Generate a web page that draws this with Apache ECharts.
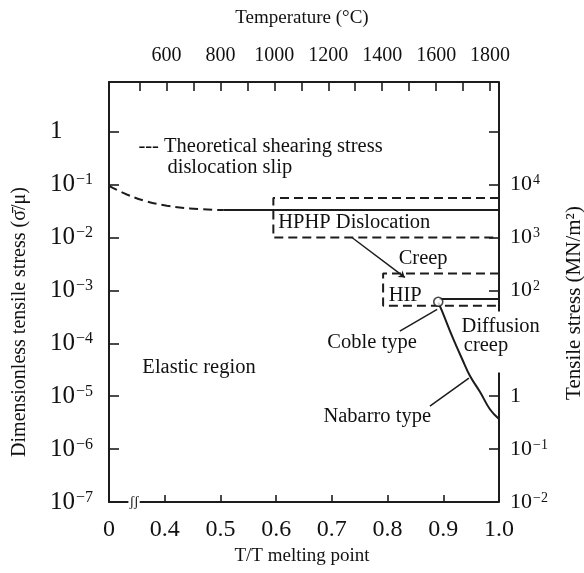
<!DOCTYPE html>
<html>
<head>
<meta charset="utf-8">
<title>Deformation map</title>
<script src="https://cdn.jsdelivr.net/npm/echarts@6.0.0/dist/echarts.min.js"></script>
<style>
  html, body { margin: 0; padding: 0; background: #fff; }
  #chart { width: 584px; height: 573px; }
</style>
</head>
<body>
<div id="chart"></div>
<script>
// x: T/T melting point, y: dimensionless tensile stress (log)
var theoryCurve = [[0.300, 0.095], [0.332, 0.065], [0.368, 0.048], [0.404, 0.040], [0.445, 0.0355], [0.505, 0.033]];
var flowLine = [[0.505, 0.033], [1.0, 0.033]];
var hphpBox = [[1.0, 0.0556], [0.595, 0.0556], [0.595, 0.0100], [1.0, 0.0100]];
var hipBox = [[1.0, 0.00209], [0.792, 0.00209], [0.792, 0.000512], [1.0, 0.000512]];
var hipLine = [[0.893, 0.00069], [1.0, 0.00069]];
var coblePoint = [[0.891, 0.00061]];
var nabarroCurve = [[0.891, 0.00059], [0.898, 0.00040], [0.916, 0.000135], [0.934, 0.000050],
  [0.948, 0.000024], [0.966, 0.000012], [0.984, 0.0000056], [1.0, 0.0000037]];

// pointer lines from the labels
var leaderHphp = [[0.736, 0.0100], [0.831, 0.00176]];
var leaderCoble = [[0.822, 0.00017], [0.889, 0.00044]];
var leaderNabarro = [[0.876, 0.0000065], [0.946, 0.000022]];

// right border is broken where "Diffusion creep" sits
var rightFrameTop = [[1.0, 8.71], [1.0, 0.00040]];
var rightFrameBottom = [[1.0, 0.000028], [1.0, 1e-7]];

var tempTicks = [500, 600, 700, 800, 900, 1000, 1100, 1200, 1300, 1400, 1500, 1600, 1700, 1800];
var tempLabels = [600, 800, 1000, 1200, 1400, 1600, 1800];
var mnTicks = [1e-1, 1, 1e2, 1e3, 1e4, 1e5];   // right axis, MN/m2 (no tick at 10)

var notes = [
  { name: '--- Theoretical shearing stress', value: [0.352, 0.53] },
  { name: 'dislocation slip', value: [0.404, 0.21] },
  { name: 'HPHP Dislocation', value: [0.603, 0.0188] },
  { name: 'Creep', value: [0.819, 0.00408] },
  { name: 'HIP', value: [0.801, 0.00081] },
  { name: 'Coble type', value: [0.691, 0.000105] },
  { name: 'Elastic region', value: [0.359, 0.000034] },
  { name: 'Nabarro type', value: [0.684, 0.0000041] },
  { name: 'Diffusion', value: [0.932, 0.00021] },
  { name: 'creep', value: [0.936, 0.000089] }
];

var FONT = "'Liberation Serif', 'DejaVu Serif', serif";
var INK = '#1c1c1c';
var TXT = '#111';

function powLabel(v, hide) {
  var lg = Math.log10(v);
  var e = Math.round(lg);
  if (Math.abs(lg - e) > 0.01) return '';
  if (hide.indexOf(e) >= 0) return '';
  if (e === 0) return '{b|1}';
  return '{b|10}{s|' + (e < 0 ? '\u2212' + (-e) : e) + '}';
}

function lineSeries(data, dashed, smooth, width) {
  return {
    type: 'line',
    data: data,
    symbol: 'none',
    smooth: smooth || false,
    clip: false,
    silent: true,
    lineStyle: { color: INK, width: width || 2, type: dashed ? [9, 5] : 'solid' }
  };
}

var chart = echarts.init(document.getElementById('chart'));
var option = {
  animation: false,
  backgroundColor: '#fff',
  grid: { left: 109, right: 85, top: 82, bottom: 71, outerBoundsMode: 'none' },
  xAxis: [
    {
      type: 'value',
      position: 'bottom',
      min: 0.3,
      max: 1.0,
      interval: 0.1,
      axisLine: { lineStyle: { color: INK, width: 2 } },
      axisTick: { inside: true, length: 7, lineStyle: { color: INK, width: 1.6 } },
      axisLabel: {
        margin: 16,
        fontSize: 24,
        fontFamily: FONT,
        color: TXT,
        formatter: function (v) { return v < 0.35 ? '0' : v.toFixed(1); }
      },
      splitLine: { show: false }
    },
    {
      type: 'value',
      position: 'top',
      min: 387,
      max: 1833,
      axisLine: { lineStyle: { color: INK, width: 2 } },
      axisTick: { inside: true, length: 9, customValues: tempTicks, lineStyle: { color: INK, width: 1.6 } },
      axisLabel: {
        customValues: tempLabels,
        margin: 16,
        fontSize: 20,
        fontFamily: FONT,
        color: TXT,
        formatter: function (v) { return String(Math.round(v)); }
      },
      splitLine: { show: false }
    }
  ],
  yAxis: [
    {
      type: 'log',
      logBase: 10,
      min: 1e-7,
      max: 8.71,
      position: 'left',
      axisLine: { lineStyle: { color: INK, width: 2 } },
      axisTick: { inside: true, length: 10, lineStyle: { color: INK, width: 1.6 } },
      axisLabel: {
        align: 'left',
        margin: 59,
        showMaxLabel: false,
        formatter: function (v) { return powLabel(v, []); },
        rich: {
          b: { fontSize: 25, fontFamily: FONT, color: TXT },
          s: { fontSize: 16, fontFamily: FONT, color: TXT, verticalAlign: 'top', padding: [0, 0, 0, 1] }
        }
      },
      splitLine: { show: false }
    },
    {
      type: 'log',
      logBase: 10,
      min: 1e-2,
      max: 8.71e5,
      position: 'right',
      axisLine: { show: false },
      axisTick: { inside: true, length: 10, customValues: mnTicks, lineStyle: { color: INK, width: 1.6 } },
      axisLabel: {
        margin: 11,
        showMaxLabel: false,
        formatter: function (v) { return powLabel(v, [5, 1]); },
        rich: {
          b: { fontSize: 22, fontFamily: FONT, color: TXT },
          s: { fontSize: 14, fontFamily: FONT, color: TXT, verticalAlign: 'top', padding: [0, 0, 0, 1] }
        }
      },
      splitLine: { show: false }
    }
  ],
  graphic: [
    { type: 'text', x: 302, y: 18, style: { text: 'Temperature (\u00b0C)', font: '19px ' + FONT, fill: TXT, textAlign: 'center', textVerticalAlign: 'middle' } },
    { type: 'text', x: 302, y: 556, style: { text: 'T/T melting point', font: '19px ' + FONT, fill: TXT, textAlign: 'center', textVerticalAlign: 'middle' } },
    { type: 'text', x: 20, y: 322, rotation: Math.PI / 2, style: { text: 'Dimensionless tensile stress (\u03c3\u0304/\u03bc)', font: '20px ' + FONT, fill: TXT, textAlign: 'center', textVerticalAlign: 'middle' } },
    { type: 'text', x: 574, y: 303, rotation: Math.PI / 2, style: { text: 'Tensile stress (MN/m\u00b2)', font: '21px ' + FONT, fill: TXT, textAlign: 'center', textVerticalAlign: 'middle' } }
  ],
  series: [
    lineSeries(theoryCurve, true, 0.4),
    lineSeries(flowLine, false),
    lineSeries(hphpBox, true),
    lineSeries(hipBox, true),
    lineSeries(hipLine, false),
    lineSeries(nabarroCurve, false, 0.4),
    lineSeries(rightFrameTop, false),
    lineSeries(rightFrameBottom, false),
    {
      type: 'lines',
      coordinateSystem: 'cartesian2d',
      silent: true,
      lineStyle: { color: INK, width: 1.5, opacity: 1 },
      data: [
        { coords: leaderHphp, symbol: ['none', 'arrow'], symbolSize: 6 },
        { coords: leaderCoble, symbol: ['none', 'none'] },
        { coords: leaderNabarro, symbol: ['none', 'none'] }
      ]
    },
    {
      type: 'scatter',
      data: coblePoint,
      symbol: 'circle',
      symbolSize: 9,
      z: 5,
      itemStyle: { color: '#fff', borderColor: INK, borderWidth: 1.6 }
    },
    {
      type: 'scatter',
      data: notes,
      symbolSize: 1,
      clip: false,
      silent: true,
      itemStyle: { opacity: 0 },
      label: {
        show: true,
        position: 'right',
        distance: 0,
        formatter: '{b}',
        fontSize: 20.5,
        fontFamily: FONT,
        color: TXT,
        opacity: 1
      }
    },
    {
      type: 'scatter',
      data: [[0.345, 1e-7]],
      symbolSize: 1,
      clip: false,
      silent: true,
      z: 6,
      itemStyle: { opacity: 0 },
      label: {
        show: true,
        position: 'inside',
        formatter: '\u0283\u0283',
        fontSize: 14,
        fontFamily: FONT,
        color: TXT,
        opacity: 1,
        backgroundColor: '#fff',
        padding: [0, 1]
      }
    }
  ]
};
chart.setOption(option);
</script>
</body>
</html>
